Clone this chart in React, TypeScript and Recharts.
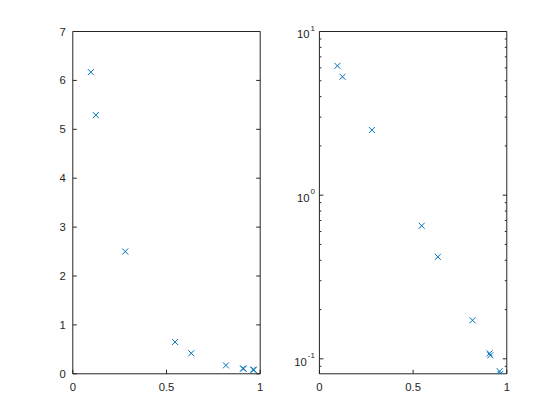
import { Scatter, ScatterChart, XAxis, YAxis } from "recharts";

// x / y of each sample
const xs = [0.096, 0.123, 0.28, 0.546, 0.632, 0.817, 0.908, 0.912, 0.962, 0.966];
const ys = [6.17, 5.29, 2.5, 0.65, 0.42, 0.172, 0.108, 0.105, 0.084, 0.081];

const xTicks = [0, 0.5, 1];
const linTicks = [0, 1, 2, 3, 4, 5, 6, 7];
const logTicks = [0.1, 1, 10];
const logMinor = [0.09, 0.2, 0.3, 0.4, 0.5, 0.6, 0.7, 0.8, 0.9, 2, 3, 4, 5, 6, 7, 8, 9];

const points = xs.map((x, i) => ({ x, y: ys[i] }));

const AX = "#262626";
const BLUE = "#0072BD";
const FONT = "'Liberation Sans', Arial, Helvetica, sans-serif";
const FS = 11.3;
const tickStyle = { fill: AX, fontSize: FS, fontFamily: FONT };
const TH = 0.01; // axes need a non-zero size to be drawn

const Cross = (props: any) => {
  const { cx, cy } = props;
  const r = 3;
  return (
    <g stroke={BLUE} strokeWidth={1}>
      <line x1={cx - r} y1={cy - r} x2={cx + r} y2={cy + r} />
      <line x1={cx - r} y1={cy + r} x2={cx + r} y2={cy - r} />
    </g>
  );
};

const Blank = () => <g />;

const PowTick = (props: any) => {
  const { x, y, payload } = props;
  const exp = Math.round(Math.log10(payload.value));
  return (
    <text x={x + 2.5} y={y + 6.7} textAnchor="end" fill={AX} fontSize={FS} fontFamily={FONT}>
      <tspan>10</tspan>
      <tspan dx={1} dy={-7.5} fontSize={8}>{exp}</tspan>
    </text>
  );
};

const line = { stroke: AX, strokeWidth: 1 };

const Panel = ({ log, left }: { log: boolean; left: number }) => {
  const domain: [number, number] = log ? [0.081, 10] : [0, 7];
  const yTicks = log ? logTicks : linTicks;
  const scale = log ? "log" : "linear";
  const plotLeft = left === 0 ? 72.8 : 39.4;
  return (
    <div style={{ position: "absolute", left, top: 0 }}>
      <ScatterChart
        width={280}
        height={420}
        margin={{ top: 31.5, left: plotLeft, right: 280 - plotLeft - 187.4, bottom: 46.2 }}
      >
        <XAxis xAxisId="b" dataKey="x" type="number" domain={[0, 1]} ticks={xTicks} height={TH}
          tickSize={-4} tickMargin={13.5} tick={tickStyle} axisLine={line} tickLine={line} allowDataOverflow />
        <XAxis xAxisId="t" orientation="top" type="number" domain={[0, 1]} ticks={xTicks} height={TH}
          tickSize={-4} tick={<Blank />} axisLine={line} tickLine={line} allowDataOverflow />
        <YAxis yAxisId="l" dataKey="y" type="number" scale={scale} domain={domain} ticks={yTicks} width={TH}
          tickSize={-4} tickMargin={11} tick={log ? <PowTick /> : tickStyle} axisLine={line} tickLine={line}
          allowDataOverflow interval={0} />
        <YAxis yAxisId="r" orientation="right" type="number" scale={scale} domain={domain} ticks={yTicks} width={TH}
          tickSize={-4} tick={<Blank />} axisLine={line} tickLine={line} allowDataOverflow interval={0} />
        {log && (
          <YAxis yAxisId="lm" type="number" scale="log" domain={domain} ticks={logMinor} width={TH}
            tickSize={-2} tick={<Blank />} axisLine={false} tickLine={line} allowDataOverflow interval={0} />
        )}
        {log && (
          <YAxis yAxisId="rm" orientation="right" type="number" scale="log" domain={domain} ticks={logMinor} width={TH}
            tickSize={-2} tick={<Blank />} axisLine={false} tickLine={line} allowDataOverflow interval={0} />
        )}
        <Scatter data={points} xAxisId="b" yAxisId="l" shape={<Cross />} isAnimationActive={false} />
      </ScatterChart>
    </div>
  );
};

export default function App() {
  return (
    <div style={{ position: "absolute", left: 0, top: 0, width: 560, height: 420, background: "#fff" }}>
      <Panel log={false} left={0} />
      <Panel log={true} left={280} />
    </div>
  );
}
